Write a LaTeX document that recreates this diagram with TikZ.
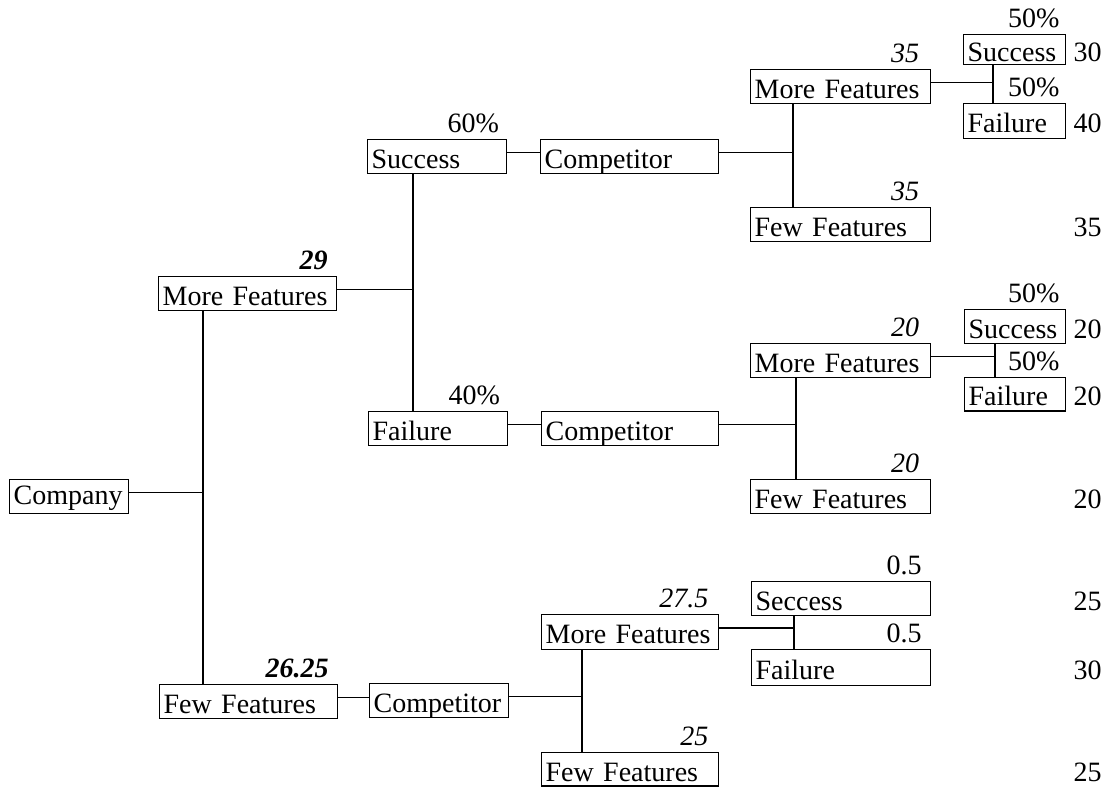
\documentclass[tikz,border=0pt]{standalone}
\usepackage{fontspec}
\setmainfont{Liberation Serif}
\begin{document}
\begin{tikzpicture}[x=0.75pt,y=-0.75pt,
  font=\fontsize{21}{25}\selectfont,
  box/.style={draw, line width=1pt, rectangle, anchor=north west,
    inner xsep=3pt, inner ysep=0pt, minimum height=25.5pt,
    text width=#1, align=left, text height=17.5pt, text depth=0pt},
  wire/.style={line width=1.2pt},
  prob/.style={anchor=base east, inner sep=0pt},
  val/.style={anchor=base east, inner sep=0pt}]
\useasboundingbox (0,0) rectangle (1111,787);

% ---- decision and chance boxes ----
\node[box=83.25pt, text height=15.5pt, text depth=4pt] (company) at (9,479) {Company};
\node[box=127.5pt] (mf1) at (158,276) {More Features};
\node[box=127.5pt] (ff1) at (159,684) {Few Features};

\node[box=98.25pt] (s2) at (367,139) {Success};
\node[box=127.5pt] (c2a) at (540,139) {Competitor};
\node[box=98.25pt] (f2) at (368,411) {Failure};
\node[box=126.75pt] (c2b) at (541,411) {Competitor};
\node[box=98.25pt] (c2c) at (369,683) {Competitor};

\node[box=129pt] (mf3a) at (750,69) {More Features};
\node[box=129pt] (ff3a) at (750,207) {Few Features};
\node[box=70.5pt, minimum height=22.5pt] (s4a) at (963,34) {Success};
\node[box=70.5pt, minimum height=26pt] (f4a) at (963,103) {Failure};

\node[box=129pt] (mf3b) at (750,343) {More Features};
\node[box=129pt] (ff3b) at (750,479) {Few Features};
\node[box=69.75pt] (s4b) at (964,309) {Success};
\node[box=69.75pt, minimum height=25pt] (f4b) at (964,377) {Failure};

\node[box=126.75pt, minimum height=26pt] (mf2c) at (541,614) {More Features};
\node[box=126.75pt, minimum height=25pt] (ff2c) at (541,752) {Few Features};
\node[box=128.25pt] (sc) at (751,581) {Seccess};
\node[box=128.25pt, minimum height=27pt] (fc) at (751,649) {Failure};

% ---- expected values and probabilities above the boxes ----
\node[prob] (pmf1) at ([xshift=-7pt,yshift=5pt]mf1.north east) {\textbf{\textit{29}}};
\node[prob] (pff1) at ([xshift=-7pt,yshift=5pt]ff1.north east) {\textbf{\textit{26.25}}};
\node[prob] (ps2) at ([xshift=-6pt,yshift=5pt]s2.north east) {60\%};
\node[prob] (pf2) at ([xshift=-6pt,yshift=5pt]f2.north east) {40\%};
\node[prob] (pmf3a) at ([xshift=-9pt,yshift=5pt]mf3a.north east) {\textit{35}};
\node[prob] (pff3a) at ([xshift=-9pt,yshift=5pt]ff3a.north east) {\textit{35}};
\node[prob] (ps4a) at ([xshift=-5pt,yshift=4.5pt]s4a.north east) {50\%};
\node[prob] (pf4a) at ([xshift=-5pt,yshift=4.5pt]f4a.north east) {50\%};
\node[prob] (pmf3b) at ([xshift=-9pt,yshift=5pt]mf3b.north east) {\textit{20}};
\node[prob] (pff3b) at ([xshift=-9pt,yshift=5pt]ff3b.north east) {\textit{20}};
\node[prob] (ps4b) at ([xshift=-5pt,yshift=4.5pt]s4b.north east) {50\%};
\node[prob] (pf4b) at ([xshift=-5pt,yshift=4.5pt]f4b.north east) {50\%};
\node[prob] (pmf2c) at ([xshift=-8pt,yshift=5pt]mf2c.north east) {\textit{27.5}};
\node[prob] (pff2c) at ([xshift=-8pt,yshift=5pt]ff2c.north east) {\textit{25}};
\node[prob] (psc) at ([xshift=-7pt,yshift=5pt]sc.north east) {0.5};
\node[prob] (pfc) at ([xshift=-7pt,yshift=5pt]fc.north east) {0.5};

% ---- payoffs in the right column ----
\coordinate (rc) at (1102,0);
\node[val] (vs4a) at (rc |- s4a.base) {30};
\node[val] (vf4a) at (rc |- f4a.base) {40};
\node[val] (vff3a) at (rc |- ff3a.base) {35};
\node[val] (vs4b) at (rc |- s4b.base) {20};
\node[val] (vf4b) at (rc |- f4b.base) {20};
\node[val] (vff3b) at (rc |- ff3b.base) {20};
\node[val] (vsc) at (rc |- sc.base) {25};
\node[val] (vfc) at (rc |- fc.base) {30};
\node[val] (vff2c) at (rc |- ff2c.base) {25};

% ---- branch junctions ----
\coordinate (j0) at (203,0);
\coordinate (j1) at (413,0);
\coordinate (j2) at (793,0);
\coordinate (j3) at (993,0);
\coordinate (j4) at (796,0);
\coordinate (j5) at (995,0);
\coordinate (j6) at (582,0);
\coordinate (j7) at (794,0);

% start points of the horizontal links, a little above centre
\coordinate (kco) at ([yshift=3pt]company.east);
\coordinate (kmf1) at ([yshift=3pt]mf1.east);
\coordinate (ks2) at ([yshift=3pt]s2.east);
\coordinate (kc2a) at ([yshift=3pt]c2a.east);
\coordinate (kmf3a) at ([yshift=3pt]mf3a.east);
\coordinate (kf2) at ([yshift=3pt]f2.east);
\coordinate (kc2b) at ([yshift=3pt]c2b.east);
\coordinate (kmf3b) at ([yshift=3pt]mf3b.east);
\coordinate (kff1) at ([yshift=3pt]ff1.east);
\coordinate (kc2c) at ([yshift=3pt]c2c.east);
\coordinate (kmf2c) at ([yshift=3pt]mf2c.east);

% ---- connectors ----
\draw[wire] (kco) -- (kco -| j0);
\draw[wire] (mf1.south -| j0) -- (ff1.north -| j0);

\draw[wire] (kmf1) -- (kmf1 -| j1);
\draw[wire] (s2.south -| j1) -- (f2.north -| j1);

\draw[wire] (ks2) -- (ks2 -| c2a.west);
\draw[wire] (kc2a) -- (kc2a -| j2);
\draw[wire] (mf3a.south -| j2) -- (ff3a.north -| j2);
\draw[wire] (kmf3a) -- (kmf3a -| j3);
\draw[wire] (s4a.south -| j3) -- (f4a.north -| j3);

\draw[wire] (kf2) -- (kf2 -| c2b.west);
\draw[wire] (kc2b) -- (kc2b -| j4);
\draw[wire] (mf3b.south -| j4) -- (ff3b.north -| j4);
\draw[wire] (kmf3b) -- (kmf3b -| j5);
\draw[wire] (s4b.south -| j5) -- (f4b.north -| j5);

\draw[wire] (kff1) -- (kff1 -| c2c.west);
\draw[wire] (kc2c) -- (kc2c -| j6);
\draw[wire] (mf2c.south -| j6) -- (ff2c.north -| j6);
\draw[wire] (kmf2c) -- (kmf2c -| j7);
\draw[wire] (sc.south -| j7) -- (fc.north -| j7);
\end{tikzpicture}
\end{document}
